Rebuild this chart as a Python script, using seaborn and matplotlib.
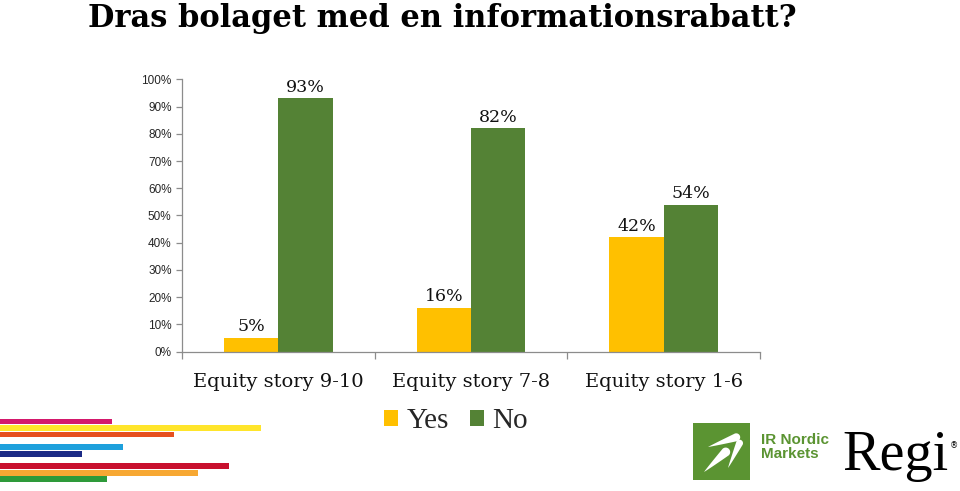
import matplotlib
matplotlib.use("Agg")
import numpy as np
import matplotlib.pyplot as plt
import seaborn as sns
import pandas as pd
from matplotlib.patches import Rectangle, Patch, Polygon
from matplotlib.ticker import FixedLocator, PercentFormatter

# ---- data ----
categories = ["Equity story 9-10", "Equity story 7-8", "Equity story 1-6"]
answers = ["Yes", "No"]
yes_values = [5, 16, 42]
no_values = [93, 82, 54]
y_ticks = [0, 10, 20, 30, 40, 50, 60, 70, 80, 90, 100]
title = "Dras bolaget med en informationsrabatt?"

colors = {"Yes": "#FFC000", "No": "#548235"}

df = pd.DataFrame({
    "category": categories * 2,
    "answer": ["Yes"] * len(categories) + ["No"] * len(categories),
    "value": yes_values + no_values,
})

sns.set_theme(style="white")
plt.rcParams["font.family"] = ["DejaVu Serif", "Liberation Serif"]

W, H = 960, 491
fig = plt.figure(figsize=(W / 100, H / 100), dpi=100)
fig.patch.set_facecolor("white")


def fx(x):
    return x / W


def fy(y):
    return 1 - y / H


ax = fig.add_axes([fx(182), fy(351.7), fx(760) - fx(182), fy(79.3) - fy(351.7)])

sns.barplot(data=df, x="category", y="value", hue="answer", order=categories,
            hue_order=answers, palette=colors, width=0.565, gap=0,
            saturation=1, legend=False, ax=ax, linewidth=0)

ax.set_xlim(-0.5, len(categories) - 0.5)
ax.set_ylim(0, 100)
ax.set_xlabel("")
ax.set_ylabel("")

for cont in ax.containers:
    ax.bar_label(cont, labels=[f"{b.get_height():.0f}%" for b in cont],
                 padding=2, fontsize=12.5, color="#111111",
                 family=["DejaVu Serif"])

axis_col = "#8C8C8C"
for s in ["top", "right"]:
    ax.spines[s].set_visible(False)
for s in ["left", "bottom"]:
    ax.spines[s].set_color(axis_col)
    ax.spines[s].set_linewidth(0.9)

ax.yaxis.set_major_locator(FixedLocator(y_ticks))
ax.yaxis.set_major_formatter(PercentFormatter(decimals=0))
ax.tick_params(axis="y", which="major", direction="out", length=4, width=0.9,
               color=axis_col, pad=3.5, labelsize=8.5, labelcolor="#262626",
               left=True)
for lbl in ax.get_yticklabels():
    lbl.set_family(["Liberation Sans"])

ax.xaxis.set_minor_locator(FixedLocator([i - 0.5 for i in range(len(categories) + 1)]))
ax.tick_params(axis="x", which="minor", direction="out", length=5, width=0.9,
               color=axis_col, bottom=True)
ax.tick_params(axis="x", which="major", length=0, pad=15, labelsize=14,
               labelcolor="#111111")
ax.grid(False)

# legend
handles = [Patch(facecolor=colors[a], edgecolor="none", label=a) for a in answers]
fig.legend(handles=handles, loc="center", bbox_to_anchor=(fx(456), fy(421)),
           ncol=2, frameon=False, handlelength=0.48, handleheight=0.48,
           columnspacing=0.7, handletextpad=0.3,
           prop={"family": "Liberation Serif", "size": 21})

# title
fig.text(fx(88), fy(27), title, fontsize=22, fontweight="bold",
         family=["DejaVu Serif"], ha="left", va="baseline", color="black")

# decorative stripes (bottom-left)
stripes = [
    (419, 424, 112, "#D4186C"),
    (425, 431, 261, "#FFE52B"),
    (432, 437, 174, "#E6501F"),
    (444, 450, 123, "#1EA0DC"),
    (451, 457, 82, "#1B2A86"),
    (463, 469, 229, "#C8102E"),
    (470, 476, 198, "#F7A833"),
    (476, 482, 107, "#2E9A3A"),
]
for y0, y1, x1, c in stripes:
    fig.patches.append(Rectangle((0, fy(y1)), fx(x1), fy(y0) - fy(y1),
                                 transform=fig.transFigure, facecolor=c,
                                 edgecolor="none"))

# logo: IR Nordic Markets
logo_green = "#5B9432"
fig.patches.append(Rectangle((fx(693), fy(480)), fx(750) - fx(693), fy(423) - fy(480),
                             transform=fig.transFigure, facecolor=logo_green,
                             edgecolor="none"))


def teardrop(p0, p1, w):
    p0 = np.array(p0, float)
    p1 = np.array(p1, float)
    d = p1 - p0
    L = np.hypot(*d)
    u = d / L
    n = np.array([-u[1], u[0]])
    r = w / 2
    c = p1 - u * r
    pts = []
    for t in np.linspace(0, 1, 12):
        hw = r * t ** 0.9
        pts.append(p0 + (c - p0) * t + n * hw)
    ang0 = np.arctan2(n[1], n[0])
    for a in np.linspace(0, np.pi, 14):
        rot = np.array([np.cos(ang0 - a), np.sin(ang0 - a)])
        pts.append(c + r * rot)
    for t in np.linspace(1, 0, 12):
        hw = r * t ** 0.9
        pts.append(p0 + (c - p0) * t - n * hw)
    return [(fx(x), fy(y)) for x, y in pts]


for p0, p1, w in [((708, 447), (740, 436), 8),
                  ((704, 472), (729, 449), 9),
                  ((728, 468), (741, 440), 7)]:
    fig.patches.append(Polygon(teardrop(p0, p1, w), closed=True,
                               transform=fig.transFigure, facecolor="white",
                               edgecolor="none"))

fig.text(fx(761), fy(447), "IR Nordic\nMarkets", fontsize=11, fontweight="bold",
         family=["Liberation Sans"], color=logo_green, ha="left", va="center",
         linespacing=0.95)
fig.text(fx(842), fy(470), "Regi", fontsize=40.5, family=["Liberation Serif"],
         color="black", ha="left", va="baseline")
fig.text(fx(950), fy(446), "®", fontsize=6, family=["DejaVu Sans"],
         color="black", ha="left", va="center")

fig.savefig("out.png", dpi=100, facecolor="white")
